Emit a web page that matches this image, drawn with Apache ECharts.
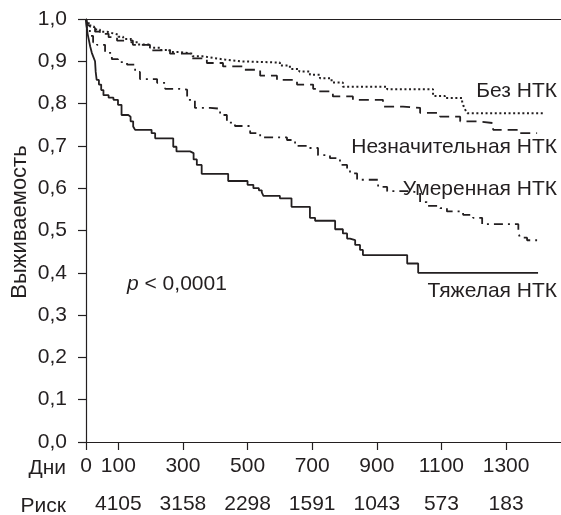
<!DOCTYPE html>
<html>
<head>
<meta charset="utf-8">
<script src="https://cdn.jsdelivr.net/npm/echarts@6/dist/echarts.min.js"></script>
<style>
	html, body { margin: 0; padding: 0; background: #fff; }
	#main { width: 561px; height: 515px; }
</style>
</head>
<body>
<div id="main"></div>
<script>
var dayTicks = [0, 100, 300, 500, 700, 900, 1100, 1300];
var riskDays = [100, 300, 500, 700, 900, 1100, 1300];
var riskCounts = [4105, 3158, 2298, 1591, 1043, 573, 183];

// [день, выживаемость] - ступенчатые кривые Каплана-Мейера
var noneData = [[0, 1.0], [5, 0.99], [12, 0.982], [25, 0.975], [43, 0.97], [65, 0.966], [84, 0.963], [100, 0.958],
	[115, 0.953], [140, 0.945], [160, 0.94], [198, 0.932], [230, 0.927], [260, 0.922], [291, 0.918], [330, 0.912],
	[360, 0.908], [393, 0.904], [430, 0.9], [477, 0.897], [600, 0.89], [631, 0.882], [660, 0.876], [693, 0.868],
	[724, 0.86], [760, 0.85], [795, 0.84], [932, 0.834], [1074, 0.818], [1111, 0.813], [1164, 0.805], [1168, 0.795],
	[1174, 0.785], [1180, 0.777], [1421, 0.777]];
var mildData = [[0, 1.0], [6, 0.985], [28, 0.97], [43, 0.965], [70, 0.957], [96, 0.949], [145, 0.939], [198, 0.926],
	[260, 0.918], [322, 0.907], [374, 0.896], [424, 0.888], [486, 0.88], [539, 0.866], [591, 0.856], [653, 0.845],
	[703, 0.835], [715, 0.829], [764, 0.817], [826, 0.809], [919, 0.793], [981, 0.79], [1034, 0.778], [1096, 0.769],
	[1158, 0.758], [1210, 0.754], [1260, 0.738], [1334, 0.73], [1396, 0.73]];
var moderateData = [[0, 1.0], [3, 0.975], [12, 0.96], [22, 0.945], [34, 0.939], [59, 0.92], [80, 0.905], [99, 0.898],
	[127, 0.892], [152, 0.875], [167, 0.858], [220, 0.849], [245, 0.835], [291, 0.833], [313, 0.809], [337, 0.79],
	[384, 0.788], [415, 0.773], [436, 0.755], [461, 0.747], [508, 0.73], [539, 0.72], [622, 0.714], [647, 0.7],
	[693, 0.695], [718, 0.678], [755, 0.671], [786, 0.655], [808, 0.643], [817, 0.635], [839, 0.62], [904, 0.603],
	[932, 0.593], [1003, 0.589], [1034, 0.567], [1055, 0.558], [1096, 0.553], [1117, 0.545], [1167, 0.537],
	[1198, 0.53], [1226, 0.515], [1338, 0.495], [1343, 0.483], [1365, 0.477], [1396, 0.477]];
var severeData = [[0, 1.0], [2, 0.985], [5, 0.965], [9, 0.95], [13, 0.935], [18, 0.92], [23, 0.91], [28, 0.9],
	[30, 0.875], [33, 0.856], [40, 0.845], [47, 0.832], [54, 0.82], [70, 0.814], [85, 0.809], [99, 0.797],
	[110, 0.773], [131, 0.769], [138, 0.758], [146, 0.746], [152, 0.738], [203, 0.73], [214, 0.718], [270, 0.698],
	[280, 0.687], [322, 0.683], [333, 0.668], [343, 0.655], [358, 0.634], [440, 0.617], [500, 0.608], [518, 0.6],
	[535, 0.595], [544, 0.59], [549, 0.582], [600, 0.576], [636, 0.556], [693, 0.53], [709, 0.523], [771, 0.503],
	[795, 0.493], [808, 0.481], [817, 0.477], [833, 0.466], [848, 0.454], [857, 0.442], [994, 0.422], [1028, 0.4],
	[1399, 0.4]];

var ink = '#231f20';
var font = '"Liberation Sans", Arial, sans-serif';

function curve(name, data, type, width) {
	return {
		name: name,
		type: 'line',
		step: 'end',
		showSymbol: false,
		silent: true,
		data: data,
		lineStyle: {
			color: ink,
			width: width,
			type: type
		}
	};
}

function label(text, x, y, align) {
	return {
		type: 'text',
		x: x,
		y: y,
		style: {
			text: text,
			fill: ink,
			font: '21px ' + font,
			align: align,
			verticalAlign: 'middle'
		}
	};
}

var myChart = echarts.init(document.getElementById('main'));
option = {
	animation: false,
	backgroundColor: '#fff',
	textStyle: { fontFamily: font },
	grid: { left: 86, top: 19, right: 0, bottom: 73 },
	xAxis: [{
		type: 'value',
		min: 0,
		max: 1470,
		position: 'bottom',
		splitLine: { show: false },
		axisLine: { lineStyle: { color: ink, width: 1.2 } },
		axisTick: { customValues: dayTicks, length: 8, lineStyle: { color: ink, width: 1.2 } },
		axisLabel: {
			customValues: dayTicks,
			margin: 14,
			color: ink,
			fontSize: 21,
			fontFamily: font,
			formatter: function(v) {
				return String(v);
			}
		}
	}, {
		type: 'value',
		min: 0,
		max: 1470,
		position: 'bottom',
		offset: 38,
		splitLine: { show: false },
		axisLine: { show: false },
		axisTick: { show: false },
		axisLabel: {
			customValues: riskDays,
			margin: 14,
			color: ink,
			fontSize: 21,
			fontFamily: font,
			formatter: function(v) {
				return String(riskCounts[riskDays.indexOf(v)]);
			}
		}
	}, {
		type: 'value',
		min: 0,
		max: 1470,
		position: 'top',
		splitLine: { show: false },
		axisLine: { lineStyle: { color: ink, width: 1.2 } },
		axisTick: { show: false },
		axisLabel: { show: false }
	}],
	yAxis: {
		type: 'value',
		min: 0,
		max: 1,
		interval: 0.1,
		splitLine: { show: false },
		axisLine: { show: true, lineStyle: { color: ink, width: 1.2 } },
		axisTick: { show: true, length: 8, lineStyle: { color: ink, width: 1.2 } },
		axisLabel: {
			margin: 19,
			color: ink,
			fontSize: 21,
			fontFamily: font,
			formatter: function(v) {
				return v.toFixed(1).replace('.', ',');
			}
		}
	},
	series: [
		curve('Без НТК', noneData, [2, 2.6], 2),
		curve('Незначительная НТК', mildData, [10, 6], 1.8),
		curve('Умеренная НТК', moderateData, [9, 5, 2, 5], 1.8),
		curve('Тяжелая НТК', severeData, 'solid', 1.8)
	],
	graphic: [
		{
			type: 'text',
			x: 20,
			y: 222,
			rotation: Math.PI / 2,
			style: {
				text: 'Выживаемость',
				fill: ink,
				font: '22px ' + font,
				align: 'center',
				verticalAlign: 'middle'
			}
		},
		label('Дни', 66, 468, 'right'),
		label('Риск', 66, 506, 'right'),
		label('Без НТК', 557, 91, 'right'),
		label('Незначительная НТК', 557, 147, 'right'),
		label('Умеренная НТК', 557, 189, 'right'),
		label('Тяжелая НТК', 557, 291, 'right'),
		{
			type: 'text',
			x: 127,
			y: 284,
			style: {
				text: '{i|p} < 0,0001',
				fill: ink,
				font: '21px ' + font,
				verticalAlign: 'middle',
				rich: {
					i: { fontStyle: 'italic', fontSize: 21, fontFamily: font, fill: ink }
				}
			}
		}
	]
};
myChart.setOption(option);
</script>
</body>
</html>
